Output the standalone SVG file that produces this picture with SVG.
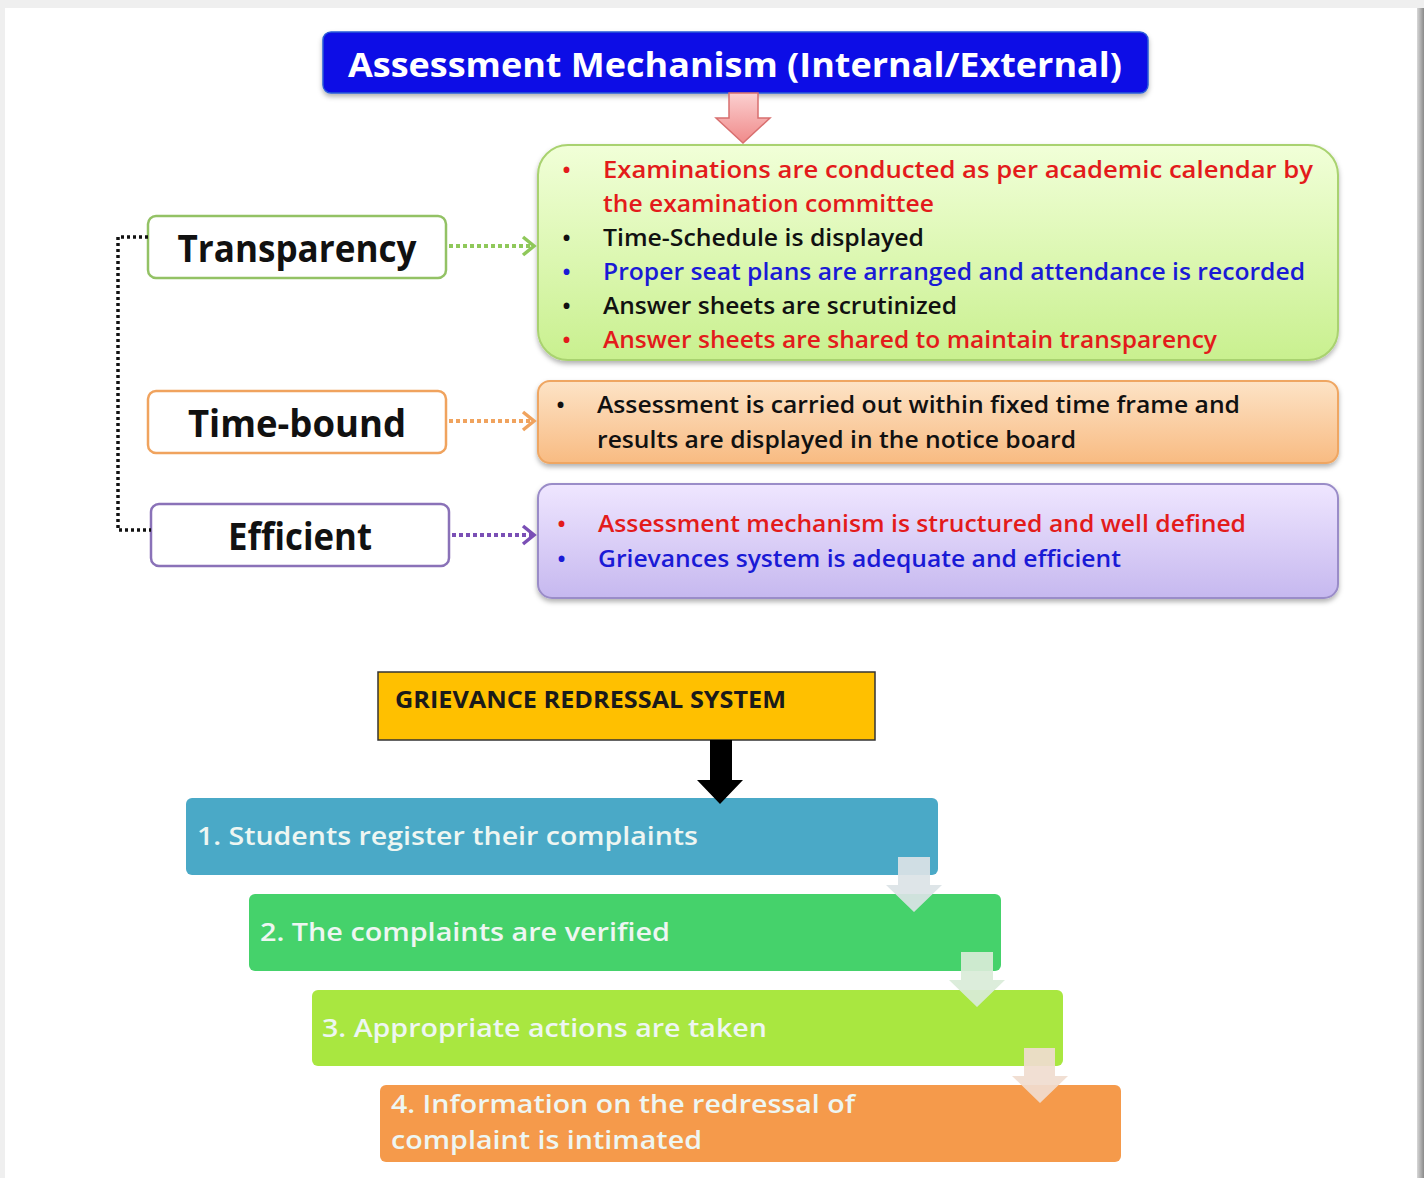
<svg xmlns="http://www.w3.org/2000/svg" width="1424" height="1178" viewBox="0 0 1424 1178">
<defs>
<style>
.t{font-family:"Open Sans","Liberation Sans",sans-serif;font-weight:600}
.b{font-family:"Open Sans","Liberation Sans",sans-serif;font-weight:700}
.red{fill:#e31b1b}.blk{fill:#111}.blu{fill:#1a1ad6}
.lst{font-size:24px}
.step{font-size:26px;fill:#eef6f2}
.lbl{font-size:38px;fill:#111;text-anchor:middle}
</style>
<linearGradient id="gGreen" x1="0" y1="0" x2="0" y2="1"><stop offset="0" stop-color="#f1ffd8"/><stop offset="1" stop-color="#c9f08f"/></linearGradient>
<linearGradient id="gOrange" x1="0" y1="0" x2="0" y2="1"><stop offset="0" stop-color="#fde3c6"/><stop offset="1" stop-color="#f8bb82"/></linearGradient>
<linearGradient id="gPurple" x1="0" y1="0" x2="0" y2="1"><stop offset="0" stop-color="#efe6ff"/><stop offset="1" stop-color="#c6b8ef"/></linearGradient>
<linearGradient id="gPink" x1="0" y1="0" x2="0" y2="1"><stop offset="0" stop-color="#fbd0d0"/><stop offset="1" stop-color="#f08a8a"/></linearGradient>
<linearGradient id="gEdge" x1="0" y1="0" x2="1" y2="0"><stop offset="0" stop-color="#d8d8d8"/><stop offset="1" stop-color="#8a8a8a"/></linearGradient>
<filter id="sh" x="-5%" y="-10%" width="110%" height="130%"><feDropShadow dx="0" dy="3" stdDeviation="2.5" flood-color="#000" flood-opacity="0.3"/></filter>
<marker id="mG" markerWidth="16" markerHeight="22" refX="13" refY="11" orient="auto" markerUnits="userSpaceOnUse"><path d="M2,2 L13,11 L2,20" fill="none" stroke="#8fc85a" stroke-width="3.5"/></marker>
<marker id="mO" markerWidth="16" markerHeight="22" refX="13" refY="11" orient="auto" markerUnits="userSpaceOnUse"><path d="M2,2 L13,11 L2,20" fill="none" stroke="#f0a35e" stroke-width="3.5"/></marker>
<marker id="mP" markerWidth="16" markerHeight="22" refX="13" refY="11" orient="auto" markerUnits="userSpaceOnUse"><path d="M2,2 L13,11 L2,20" fill="none" stroke="#7a4fb5" stroke-width="3.5"/></marker>
</defs>

<rect x="0" y="0" width="1424" height="1178" fill="#efefef"/>
<rect x="5" y="8" width="1412" height="1170" fill="#ffffff"/>
<rect x="1417" y="8" width="7" height="1170" fill="url(#gEdge)"/>

<g id="title">
<rect x="323" y="32" width="825" height="61" rx="8" fill="#0808e6" stroke="#2a5bd8" stroke-width="1.5" filter="url(#sh)"/>
<text x="735" y="77" class="b" font-size="34" fill="#ffffff" text-anchor="middle" textLength="774" lengthAdjust="spacingAndGlyphs">Assessment Mechanism (Internal/External)</text>
</g>

<g id="transparency">
<rect x="148" y="216" width="298" height="62" rx="8" fill="#fff" stroke="#93c265" stroke-width="2.5"/>
<text x="297" y="262" class="b lbl" textLength="239" lengthAdjust="spacingAndGlyphs">Transparency</text>
</g>
<g id="timebound">
<rect x="148" y="391" width="298" height="62" rx="8" fill="#fff" stroke="#f0a35e" stroke-width="2.5"/>
<text x="297" y="437" class="b lbl" textLength="218" lengthAdjust="spacingAndGlyphs">Time-bound</text>
</g>
<g id="efficient">
<rect x="151" y="504" width="298" height="62" rx="8" fill="#fff" stroke="#8a72b8" stroke-width="2.5"/>
<text x="300" y="550" class="b lbl" textLength="144" lengthAdjust="spacingAndGlyphs">Efficient</text>
</g>

<g id="transparency-details">
<rect x="538" y="145" width="800" height="215" rx="30" fill="url(#gGreen)" stroke="#a9d26f" stroke-width="2" filter="url(#sh)"/>
<g class="t lst">
<text x="562" y="178" class="red">•</text><text x="603" y="178" class="red" textLength="710" lengthAdjust="spacingAndGlyphs">Examinations are conducted as per academic calendar by</text>
<text x="603" y="212" class="red" textLength="331" lengthAdjust="spacingAndGlyphs">the examination committee</text>
<text x="562" y="246" class="blk">•</text><text x="603" y="246" class="blk" textLength="321" lengthAdjust="spacingAndGlyphs">Time-Schedule is displayed</text>
<text x="562" y="280" class="blu">•</text><text x="603" y="280" class="blu" textLength="702" lengthAdjust="spacingAndGlyphs">Proper seat plans are arranged and attendance is recorded</text>
<text x="562" y="314" class="blk">•</text><text x="603" y="314" class="blk" textLength="354" lengthAdjust="spacingAndGlyphs">Answer sheets are scrutinized</text>
<text x="562" y="348" class="red">•</text><text x="603" y="348" class="red" textLength="614" lengthAdjust="spacingAndGlyphs">Answer sheets are shared to maintain transparency</text>
</g>
</g>

<g id="timebound-details">
<rect x="538" y="381" width="800" height="82" rx="12" fill="url(#gOrange)" stroke="#efa662" stroke-width="2" filter="url(#sh)"/>
<g class="t lst">
<text x="556" y="413" class="blk">•</text><text x="597" y="413" class="blk" textLength="643" lengthAdjust="spacingAndGlyphs">Assessment is carried out within fixed time frame and</text>
<text x="597" y="448" class="blk" textLength="479" lengthAdjust="spacingAndGlyphs">results are displayed in the notice board</text>
</g>
</g>

<g id="efficient-details">
<rect x="538" y="484" width="800" height="114" rx="14" fill="url(#gPurple)" stroke="#9a8cc8" stroke-width="2" filter="url(#sh)"/>
<g class="t lst">
<text x="557" y="532" class="red">•</text><text x="598" y="532" class="red" textLength="648" lengthAdjust="spacingAndGlyphs">Assessment mechanism is structured and well defined</text>
<text x="557" y="567" class="blu">•</text><text x="598" y="567" class="blu" textLength="523" lengthAdjust="spacingAndGlyphs">Grievances system is adequate and efficient</text>
</g>
</g>

<g id="grievance">
<rect x="378" y="672" width="497" height="68" fill="#ffc000" stroke="#333" stroke-width="1.5"/>
<text x="395" y="708" class="b" font-size="23" fill="#1a1a1a" textLength="391" lengthAdjust="spacingAndGlyphs">GRIEVANCE REDRESSAL SYSTEM</text>
</g>

<g id="step1">
<rect x="186" y="798" width="752" height="77" rx="6" fill="#4aa9c7"/>
<text x="197" y="845" class="t step" textLength="501" lengthAdjust="spacingAndGlyphs">1. Students register their complaints</text>
</g>
<g id="step2">
<rect x="249" y="894" width="752" height="77" rx="6" fill="#45d26b"/>
<text x="260" y="941" class="t step" textLength="410" lengthAdjust="spacingAndGlyphs">2. The complaints are verified</text>
</g>
<g id="step3">
<rect x="312" y="990" width="751" height="76" rx="6" fill="#a9e740"/>
<text x="322" y="1037" class="t step" textLength="445" lengthAdjust="spacingAndGlyphs">3. Appropriate actions are taken</text>
</g>
<g id="step4">
<rect x="380" y="1085" width="741" height="77" rx="6" fill="#f59a4b"/>
<text x="391" y="1113" class="t step" textLength="464" lengthAdjust="spacingAndGlyphs">4. Information on the redressal of</text>
<text x="391" y="1149" class="t step" textLength="311" lengthAdjust="spacingAndGlyphs">complaint is intimated</text>
</g>

<g id="connectors">
<path d="M729,93 L758,93 L758,118 L770,118 L743,143 L716,118 L729,118 Z" fill="url(#gPink)" stroke="#d86f6f" stroke-width="1.5"/>
<line x1="449" y1="246" x2="534" y2="246" stroke="#8fc85a" stroke-width="4" stroke-dasharray="4,3" marker-end="url(#mG)"/>
<line x1="449" y1="421" x2="534" y2="421" stroke="#f0a35e" stroke-width="4" stroke-dasharray="4,3" marker-end="url(#mO)"/>
<line x1="452" y1="535" x2="534" y2="535" stroke="#7a4fb5" stroke-width="4" stroke-dasharray="4,3" marker-end="url(#mP)"/>
<path d="M148,237 L118,237 L118,530 L151,530" fill="none" stroke="#111" stroke-width="3.5" stroke-dasharray="3,3"/>
<path d="M710,740 L732,740 L732,780 L743,780 L720,804 L697,780 L710,780 Z" fill="#000"/>
<path d="M898,857 L930,857 L930,885 L942,885 L914,912 L886,885 L898,885 Z" fill="#dbe3e6" opacity="0.92"/>
<path d="M961,952 L993,952 L993,980 L1005,980 L977,1007 L949,980 L961,980 Z" fill="#d9ecd8" opacity="0.92"/>
<path d="M1024,1048 L1055,1048 L1055,1076 L1068,1076 L1040,1103 L1012,1076 L1024,1076 Z" fill="#f0dccf" opacity="0.92"/>
</g>
</svg>
